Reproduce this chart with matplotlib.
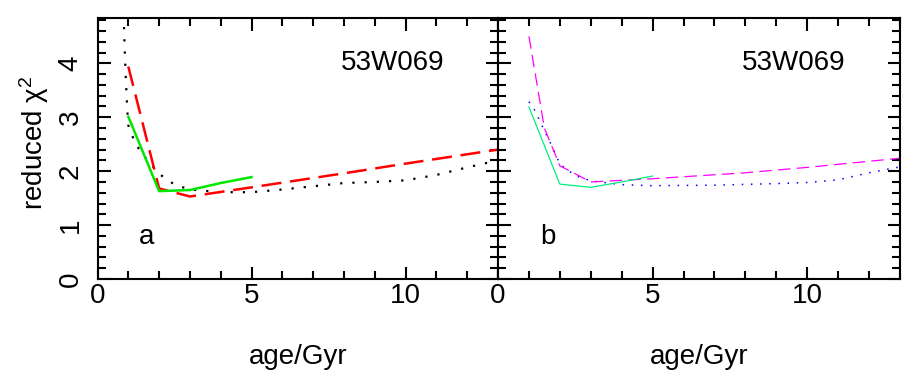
import matplotlib
matplotlib.use("Agg")
import matplotlib.pyplot as plt
from matplotlib.ticker import MultipleLocator

plt.rcParams['font.family'] = ['Liberation Sans', 'DejaVu Sans']
plt.rcParams['mathtext.fontset'] = 'custom'
plt.rcParams['mathtext.rm'] = 'Liberation Sans'
plt.rcParams['mathtext.default'] = 'regular'

# panel a
age_a_green = [1, 2, 3, 4, 5]
chi_a_green = [3.01, 1.63, 1.65, 1.78, 1.89]

age_a_red = [1, 2, 3, 5, 8, 10, 13]
chi_a_red = [3.94, 1.68, 1.53, 1.70, 1.96, 2.14, 2.40]

age_a_black = [0.85, 0.88, 0.92, 0.97, 1.0, 1.2, 1.4, 1.7, 2.0, 2.5, 3.0, 4, 5, 6, 7, 8, 9, 10, 11, 12, 13]
chi_a_black = [4.9, 4.3, 3.7, 3.1, 2.85, 2.55, 2.36, 2.15, 1.95, 1.75, 1.66, 1.61, 1.61, 1.66, 1.72, 1.78, 1.80, 1.83, 1.93, 2.07, 2.20]

# panel b
age_b_green = [1, 2, 3, 4, 5]
chi_b_green = [3.19, 1.76, 1.70, 1.80, 1.91]

age_b_magenta = [1, 1.5, 2, 3, 5, 8, 10, 13]
chi_b_magenta = [4.50, 2.80, 2.10, 1.80, 1.86, 1.97, 2.07, 2.24]

age_b_blue = [1, 1.2, 1.5, 1.8, 2, 2.5, 3, 4, 5, 7, 9, 10, 11, 12, 13]
chi_b_blue = [3.29, 3.12, 2.75, 2.40, 2.13, 1.92, 1.82, 1.75, 1.73, 1.74, 1.77, 1.79, 1.84, 1.97, 2.08]

name = "53W069"

fig = plt.figure(figsize=(9.17, 3.82), dpi=100)
axA = fig.add_axes([97.5/917, 1-279/382, 400.5/917, 261.5/382])
axB = fig.add_axes([498/917, 1-279/382, 402/917, 261.5/382])

axA.plot(age_a_black, chi_a_black, color='black', lw=1.6, linestyle=(0, (1, 4.5)))
axA.plot(age_a_red, chi_a_red, color='red', lw=1.8, linestyle=(0, (8, 3.5)))
axA.plot(age_a_green, chi_a_green, color='#00e600', lw=1.8)

axB.plot(age_b_blue, chi_b_blue, color='blue', lw=1.1, linestyle=(0, (1, 5)))
axB.plot(age_b_magenta, chi_b_magenta, color='magenta', lw=0.9, linestyle=(0, (10, 5)))
axB.plot(age_b_green, chi_b_green, color='#00f080', lw=0.9)

for ax, letter in [(axA, 'a'), (axB, 'b')]:
    ax.set_xlim(0, 13)
    ax.set_ylim(0, 4.85)
    ax.xaxis.set_major_locator(MultipleLocator(5))
    ax.xaxis.set_minor_locator(MultipleLocator(1))
    ax.yaxis.set_major_locator(MultipleLocator(1))
    ax.yaxis.set_minor_locator(MultipleLocator(0.2))
    ax.tick_params(which='both', direction='in', top=True, right=True, width=1.5)
    ax.tick_params(which='major', length=9)
    ax.tick_params(which='minor', length=6)
    ax.tick_params(axis='x', labelsize=20, pad=3)
    ax.tick_params(axis='y', labelsize=20, pad=10)
    for s in ax.spines.values():
        s.set_linewidth(1.5)
    ax.text(7.9, 4.0, name, fontsize=20, va='center', ha='left')
    ax.text(1.35, 0.65, letter, fontsize=20, va='baseline', ha='left')
    ax.set_xlabel("age/Gyr", fontsize=20, labelpad=25)

axA.set_xticks([0, 5, 10])
axA.set_yticks([0, 1, 2, 3, 4])
plt.setp(axA.get_yticklabels(), rotation=90, va='center')
axA.set_ylabel(r"reduced χ$^{2}$", fontsize=20)
axA.yaxis.set_label_coords(-0.115, 0.52)
axB.set_xticks([0, 5, 10])
axB.tick_params(axis='y', labelleft=False)

fig.savefig("out.png", dpi=100)
